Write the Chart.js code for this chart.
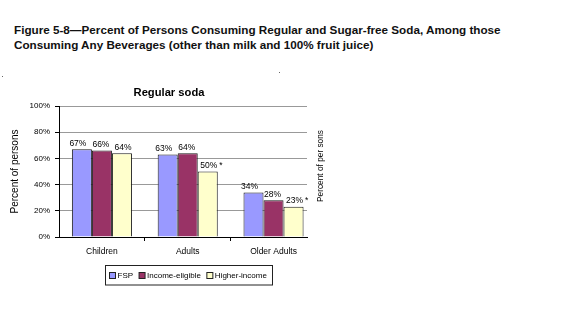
<!DOCTYPE html>
<html>
<head>
<meta charset="utf-8">
<script src="https://cdn.jsdelivr.net/npm/chart.js@4/dist/chart.umd.min.js"></script>
<style>
  html, body { margin: 0; padding: 0; background: #fff; }
  #wrap { position: relative; width: 575px; height: 329px; overflow: hidden; }
  #fig {
    position: absolute; left: 14px; top: 23px;
    font: bold 11.7px "Liberation Sans", Arial, sans-serif;
    line-height: 14.6px; color: #111; white-space: nowrap;
  }
  canvas { position: absolute; left: 0; top: 0; }
  .dot { position: absolute; width: 1px; height: 1px; background: #666; }
</style>
</head>
<body>
<div id="wrap">
  <div id="fig">Figure 5-8—Percent of Persons Consuming Regular and Sugar-free Soda, Among those<br>Consuming Any Beverages (other than milk and 100% fruit juice)</div>
  <span class="dot" style="left:2px;top:76px"></span>
  <span class="dot" style="left:279px;top:72px"></span>
  <canvas id="c" width="575" height="329"></canvas>
</div>
<script>
// Age groups along the x axis
const categories = ['Children', 'Adults', 'Older Adults'];
// Household income groups (one bar series each)
const seriesNames = ['FSP', 'Income-eligible', 'Higher-income'];
// Percent consuming regular soda
const fsp = [67, 63, 34];
const incomeEligible = [66, 64, 28];
const higherIncome = [64, 50, 23];
// Values marked with an asterisk (significant difference)
const fspStar = [false, false, false];
const incomeEligibleStar = [false, false, false];
const higherIncomeStar = [false, true, true];
// Y axis ticks (percent)
const yTicks = [0, 20, 40, 60, 80, 100];

const FONT = '"Liberation Sans", Arial, sans-serif';
const seriesColors = ['#9999FF', '#993366', '#FFFFCC'];
const seriesValues = [fsp, incomeEligible, higherIncome];
const seriesStars = [fspStar, incomeEligibleStar, higherIncomeStar];
const labelShift = [-4, -1, 1];

Chart.defaults.font.family = FONT;
Chart.defaults.color = '#000';

const datasets = seriesValues.map((vals, k) => ({
  label: seriesNames[k],
  data: vals.map((v, i) => ({ x: i, y: v })),
  backgroundColor: seriesColors[k],
  borderColor: '#1a1a1a',
  borderWidth: 1,
  categoryPercentage: 0.7,
  barPercentage: 1.0,
  xAxisID: 'x',
  yAxisID: 'y'
}));

const xMin = -0.5, xMax = 2.39;

const decorations = {
  id: 'decorations',
  afterDraw(chart) {
    const ctx = chart.ctx;
    ctx.save();
    ctx.fillStyle = '#000';

    // panel title
    ctx.font = 'bold 11.2px ' + FONT;
    ctx.textAlign = 'center';
    ctx.textBaseline = 'alphabetic';
    ctx.fillText('Regular soda', 169, 96);

    // value labels above bars
    ctx.font = '8.5px ' + FONT;
    chart.data.datasets.forEach((ds, k) => {
      const meta = chart.getDatasetMeta(k);
      meta.data.forEach((bar, i) => {
        const txt = seriesValues[k][i] + '%';
        const cx = bar.x + labelShift[k];
        const by = bar.y - 3.5;
        ctx.textAlign = 'center';
        ctx.fillText(txt, cx, by);
        if (seriesStars[k][i]) {
          const w = ctx.measureText(txt).width;
          ctx.textAlign = 'left';
          ctx.fillText('*', cx + w / 2 + 2, by);
        }
      });
    });

    // right-hand axis caption
    ctx.save();
    ctx.translate(321, 166);
    ctx.rotate(-Math.PI / 2);
    ctx.font = '8.3px ' + FONT;
    ctx.textAlign = 'center';
    ctx.textBaseline = 'middle';
    ctx.fillText('Percent of per sons', 0, 0);
    ctx.restore();

    // legend
    ctx.font = '8px ' + FONT;
    ctx.textAlign = 'left';
    ctx.textBaseline = 'middle';
    const startX = 109, cy = 275.5, sq = 6, gapText = 2.5, gapItem = 5.5;
    let x = startX;
    const items = [];
    seriesNames.forEach((name, k) => {
      const w = ctx.measureText(name).width;
      items.push({ x, name, k });
      x += sq + gapText + w + gapItem;
    });
    const endX = x - gapItem;
    ctx.strokeStyle = '#222';
    ctx.lineWidth = 1;
    ctx.strokeRect(105.5, 265.5, Math.round(endX + 5 - 105), 19.5);
    items.forEach(it => {
      ctx.fillStyle = seriesColors[it.k];
      ctx.fillRect(it.x + 0.5, cy - 3, sq, sq);
      ctx.strokeStyle = '#222';
      ctx.strokeRect(it.x + 0.5, cy - 3, sq, sq);
      ctx.fillStyle = '#000';
      ctx.fillText(it.name, it.x + sq + gapText, cy + 0.5);
    });

    ctx.restore();
  }
};

new Chart(document.getElementById('c'), {
  type: 'bar',
  data: { datasets },
  options: {
    responsive: false,
    animation: false,
    devicePixelRatio: 1,
    layout: { padding: { left: 0, top: 106, right: 268, bottom: 68 } },
    plugins: { legend: { display: false }, tooltip: { enabled: false }, title: { display: false } },
    scales: {
      x: {
        type: 'linear', position: 'bottom', min: xMin, max: xMax, bounds: 'data', weight: 1,
        offset: false,
        afterBuildTicks: s => { s.ticks = categories.map((_, i) => ({ value: i })); },
        afterFit: s => { s.height = 20; },
        grid: { display: false, drawTicks: false, offset: false },
        border: { display: false },
        ticks: {
          callback: v => categories[v],
          font: { size: 8.5 }, color: '#000', padding: 6,
          maxRotation: 0, autoSkip: false
        }
      },
      xb: {
        type: 'linear', position: 'bottom', min: xMin, max: xMax, bounds: 'data', weight: 0,
        offset: false,
        afterBuildTicks: s => { s.ticks = [{ value: 0.5 }, { value: 1.5 }]; },
        afterFit: s => { s.height = 4; },
        grid: { drawOnChartArea: false, drawTicks: true, tickLength: 4, color: '#000', tickColor: '#000', offset: false },
        border: { display: true, color: '#000', width: 1 },
        ticks: { display: false }
      },
      y: {
        min: 0, max: 100,
        afterBuildTicks: s => { s.ticks = yTicks.map(v => ({ value: v })); },
        afterFit: s => { s.width = 59; },
        ticks: { callback: v => v + '%', font: { size: 8 }, color: '#000', padding: 5 },
        grid: {
          color: c => (c.tick && c.tick.value === 0) ? 'rgba(0,0,0,0)' : '#999',
          tickColor: '#000', tickLength: 4, lineWidth: 1
        },
        border: { color: '#000', width: 1 },
        title: {
          display: true, text: 'Percent of persons',
          font: { size: 10 }, color: '#000', padding: { top: 9, bottom: 0 }
        }
      }
    }
  },
  plugins: [decorations]
});
</script>
</body>
</html>
